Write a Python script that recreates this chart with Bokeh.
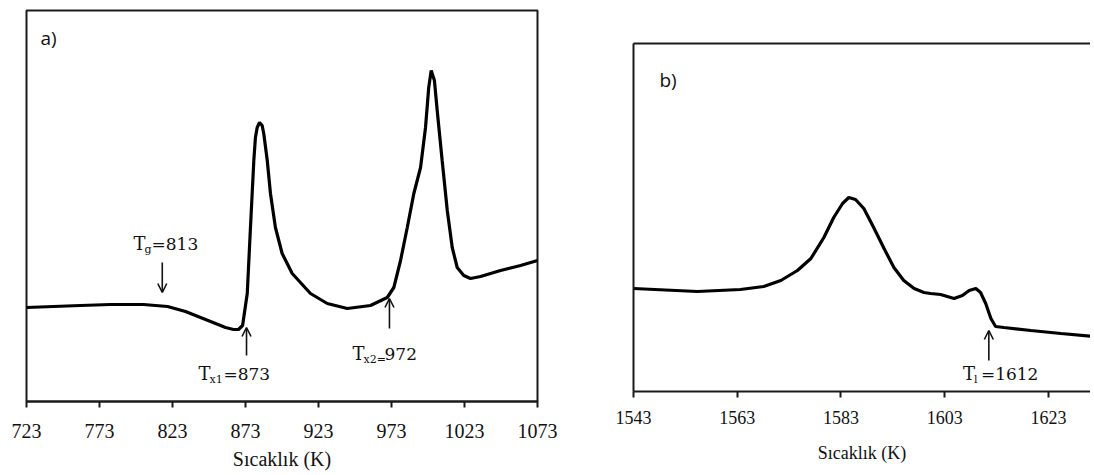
from bokeh.plotting import figure
from bokeh.layouts import row, column
from bokeh.models import FixedTicker, LinearAxis, Arrow, OpenHead, Range1d, Label
from bokeh.embed import file_html
from bokeh.resources import INLINE

# ---------------- data ----------------
temp_a = [723, 760, 780.5, 803.1, 819.6, 831.9, 842.2, 852.5, 859.3, 864.8, 868.2, 871.0,
          874.2, 876.4, 878.7, 879.8, 881.0, 882.6, 884.4, 885.5, 887.9, 890.1, 893.5,
          898.1, 905.0, 917.5, 929.0, 942.7, 958.6, 970.1, 974.6, 979.2, 983.8, 988.3,
          992.9, 996.3, 998.5, 1000.2, 1002.4, 1004.3, 1007.7, 1011.2, 1014.6, 1018.0,
          1022.5, 1027.1, 1034.0, 1047.7, 1061.4, 1073]
signal_a = [94, 96, 97, 97, 95, 90, 84, 78, 74, 72, 72, 76,
            108, 174, 241, 264, 274, 279, 276, 268, 241, 208, 174,
            148, 128, 108, 98, 93, 96, 104, 114, 141, 174, 208,
            234, 274, 314, 331, 321, 291, 241, 191, 154, 134,
            126, 123, 125, 131, 136, 141]

temp_b = [1543, 1555.3, 1563.6, 1568.1, 1571.4, 1574.6, 1577.2, 1579.7, 1581.6, 1583.3,
          1584.5, 1585.8, 1587.4, 1589.3, 1591.3, 1593.2, 1595.1, 1597.1, 1599.0, 1600.3,
          1602.2, 1604.8, 1606.4, 1607.7, 1609.0, 1609.9, 1610.9, 1611.9, 1612.8, 1614.4,
          1619.6, 1625.4, 1631.8]
signal_b = [103, 100, 102, 105, 111, 121, 133, 154, 174, 188,
            194, 192, 183, 164, 143, 124, 111, 103, 99, 98,
            97, 93, 96, 101, 103, 99, 88, 73, 65, 64,
            61, 58, 55]

ticks_a = [723, 773, 823, 873, 923, 973, 1023, 1073]
ticks_b = [1543, 1563, 1583, 1603, 1623]

x_label = "Sıcaklık (K)"

# annotations: (main, subscript, rest, x_text, y_text, x_arrow, y_tail, y_head)
ann_a = [
    ("T", "g", "=813", 796.3, 158, 816.0, 139, 109),
    ("T", "x1", "=873", 840.8, 28, 873.7, 46, 74),
    ("T", "x2=", "972", 946.3, 48, 971.6, 73, 103),
]
ann_b = [
    ("T", "l", "=1612", 1606.5, 18, 1611.5, 31, 61),
]

SERIF = "Liberation Serif"
ANN_FONT = "DejaVu Serif"
INK = "#111111"


def add_annotations(p, anns):
    for main, sub, rest, xt, yt, xa, y0, y1 in anns:
        p.add_layout(Label(x=xt, y=yt, text=main, text_font=ANN_FONT, text_font_size="18px",
                           text_baseline="middle", text_color=INK))
        p.add_layout(Label(x=xt, y=yt, x_offset=11, y_offset=-6, text=sub, text_font=ANN_FONT,
                           text_font_size="11px", text_baseline="middle", text_color=INK))
        sub_w = 7 * len(sub)
        p.add_layout(Label(x=xt, y=yt, x_offset=11 + sub_w, text=rest, text_font=ANN_FONT,
                           text_font_size="17px", text_baseline="middle", text_color=INK))
        p.add_layout(Arrow(end=OpenHead(size=9, line_width=1.6, line_color=INK),
                           x_start=xa, y_start=y0, x_end=xa, y_end=y1,
                           line_width=1.6, line_color=INK))


def style_xaxis(ax, ticks, size, title_size, label_standoff, title_standoff):
    ax.ticker = FixedTicker(ticks=ticks)
    ax.axis_line_width = 2
    ax.axis_line_color = "#1a1a1a"
    ax.major_tick_line_width = 2
    ax.major_tick_line_color = "#1a1a1a"
    ax.major_tick_in = 0
    ax.major_tick_out = 6
    ax.minor_tick_line_color = None
    ax.major_label_text_font = SERIF
    ax.major_label_text_font_size = size
    ax.major_label_text_color = INK
    ax.major_label_standoff = label_standoff
    ax.axis_label = x_label
    ax.axis_label_text_font = SERIF
    ax.axis_label_text_font_size = title_size
    ax.axis_label_text_font_style = "normal"
    ax.axis_label_text_color = INK
    ax.axis_label_standoff = title_standoff


def blank_axis(ax):
    ax.ticker = FixedTicker(ticks=[])
    ax.axis_line_width = 2
    ax.axis_line_color = "#1a1a1a"
    ax.major_tick_line_color = None
    ax.minor_tick_line_color = None
    ax.major_label_standoff = 0


# ---------------- panel a ----------------
pa = figure(width=600, height=475, output_backend="svg", toolbar_location=None,
            x_range=Range1d(723, 1073), y_range=Range1d(0, 391),
            min_border_left=26, min_border_right=63, min_border_top=10, min_border_bottom=74)
pa.grid.visible = False
pa.yaxis.visible = False
pa.outline_line_color = "#1a1a1a"
pa.outline_line_width = 2
pa.outline_line_alpha = 1
style_xaxis(pa.xaxis[0], ticks_a, "20px", "20px", 16, 7)
pa.line(temp_a, signal_a, line_color="black", line_width=3.2)
pa.add_layout(Label(x=14, y=351, x_units="screen", y_units="screen", text="a)",
                    text_font="Open Sans", text_font_size="19px", text_color=INK))
add_annotations(pa, ann_a)

# ---------------- panel b ----------------
pb = figure(width=490, height=475, output_backend="svg", toolbar_location=None,
            x_range=Range1d(1543, 1631.1), y_range=Range1d(0, 348),
            min_border_left=33, min_border_right=0, min_border_top=43, min_border_bottom=84)
pb.grid.visible = False
pb.outline_line_color = None
style_xaxis(pb.xaxis[0], ticks_b, "18px", "18px", 13, 16)
blank_axis(pb.yaxis[0])
top_ax = LinearAxis()
blank_axis(top_ax)
pb.add_layout(top_ax, "above")
pb.line(temp_b, signal_b, line_color="black", line_width=3.2)
pb.add_layout(Label(x=26, y=299, x_units="screen", y_units="screen", text="b)",
                    text_font="Open Sans", text_font_size="19px", text_color=INK))
add_annotations(pb, ann_b)

lay = row(column(pa), column(pb), spacing=0)

open("out.html", "w").write(file_html(lay, INLINE))
